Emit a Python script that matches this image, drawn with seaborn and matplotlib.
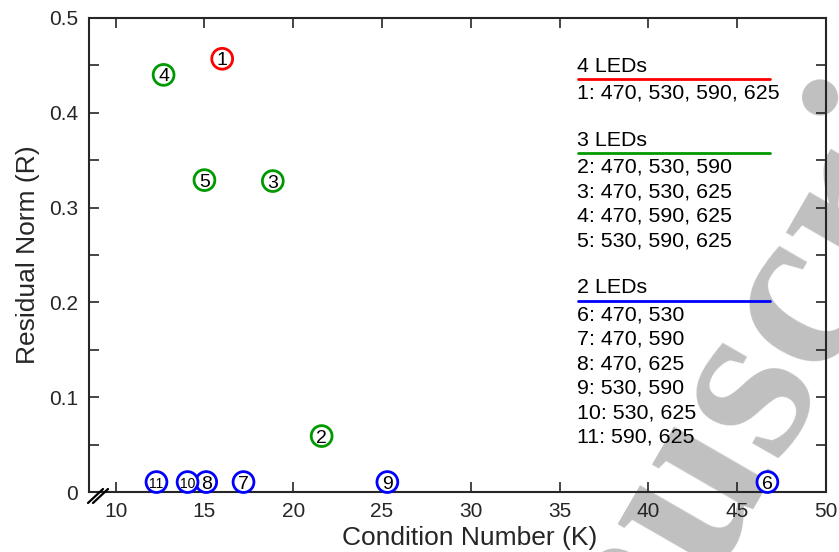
import numpy as np
import pandas as pd
import seaborn as sns
import matplotlib.pyplot as plt
from matplotlib.ticker import MultipleLocator, FuncFormatter
from matplotlib.lines import Line2D

# === DATA ===
point_ids = ["1", "2", "3", "4", "5", "6", "7", "8", "9", "10", "11"]
cond_number = [16.0, 21.6, 18.85, 12.7, 15.0, 46.7, 17.2, 15.1, 25.3, 14.05, 12.3]
residual_norm = [0.457, 0.059, 0.328, 0.440, 0.329, 0.0105, 0.0105, 0.0105, 0.0105, 0.0105, 0.0105]
led_group = ["4 LEDs", "3 LEDs", "3 LEDs", "3 LEDs", "3 LEDs",
             "2 LEDs", "2 LEDs", "2 LEDs", "2 LEDs", "2 LEDs", "2 LEDs"]

group_titles = ["4 LEDs", "3 LEDs", "2 LEDs"]
group_colors = ["#ff0000", "#009900", "#0000ff"]
group_entries = [
    ["1: 470, 530, 590, 625"],
    ["2: 470, 530, 590", "3: 470, 530, 625", "4: 470, 590, 625", "5: 530, 590, 625"],
    ["6: 470, 530", "7: 470, 590", "8: 470, 625", "9: 530, 590", "10: 530, 625", "11: 590, 625"],
]

df = pd.DataFrame({"K": cond_number, "R": residual_norm, "group": led_group, "id": point_ids})
palette = dict(zip(group_titles, group_colors))

# === STYLE ===
sns.set_theme(style="ticks")
plt.rcParams["font.family"] = ["Liberation Sans", "DejaVu Sans"]
ink = "#262626"

W, H = 839, 552
fig = plt.figure(figsize=(W / 100, H / 100), dpi=100)
ax_l, ax_r, ax_t, ax_b = 89, 826, 18, 492
ax = fig.add_axes([ax_l / W, 1 - ax_b / H, (ax_r - ax_l) / W, (ax_b - ax_t) / H])
ax.patch.set_alpha(0)


def axfrac(px, py):
    return (px - ax_l) / (ax_r - ax_l), (ax_b - py) / (ax_b - ax_t)


# watermark (behind everything)
fig.text(-32.4 / W, -1318.7 / H, "Accepted Manuscript", family=["Liberation Serif", "DejaVu Serif"],
         fontsize=173, fontweight="bold", color="#c0c0c0", rotation=60, rotation_mode="anchor",
         ha="left", va="baseline", zorder=-5)

# === SCATTER ===
sns.scatterplot(data=df, x="K", y="R", hue="group", palette=palette, s=15 ** 2,
                linewidth=2, legend=False, ax=ax, zorder=4, clip_on=False)
for coll in ax.collections:
    coll.set_edgecolors(coll.get_facecolors())
    coll.set_facecolor("white")

for k, r, pid in zip(df["K"], df["R"], df["id"]):
    ax.text(k, r, pid, ha="center", va="center_baseline",
            fontsize=10 if len(pid) > 1 else 14, color="black", zorder=5)

# === AXES ===
ax.set_xlim(8.5, 50)
ax.set_ylim(0, 0.5)
ax.set_xticks(np.arange(10, 51, 5))
ax.yaxis.set_major_locator(MultipleLocator(0.1))
ax.yaxis.set_minor_locator(MultipleLocator(0.05))
ax.yaxis.set_major_formatter(FuncFormatter(lambda v, p: f"{v:g}"))
ax.tick_params(axis="both", which="both", direction="in", top=True, right=True,
               color=ink, width=1.2, labelsize=15, labelcolor=ink)
ax.tick_params(axis="both", which="major", length=7)
ax.tick_params(axis="y", which="minor", length=7)
ax.tick_params(axis="y", pad=8)
ax.tick_params(axis="x", pad=7)
for sp in ax.spines.values():
    sp.set_visible(True)
    sp.set_color(ink)
    sp.set_linewidth(1.5)

ax.set_xlabel("Condition Number (K)", fontsize=19, color=ink)
ax.xaxis.set_label_coords(axfrac(470, 0)[0], -0.071)
ax.set_ylabel("Residual Norm (R)", fontsize=19, color=ink, labelpad=6)

# axis break mark
for dx in (0, 5):
    x0, y0 = axfrac(88 + dx, 503)
    x1, y1 = axfrac(103 + dx, 489)
    ax.add_line(Line2D([x0, x1], [y0, y1], transform=ax.transAxes, color="black",
                       lw=1.6, clip_on=False, zorder=6))

# === TEXT LEGEND ===
text_x, line_x0, line_x1 = 577, 578, 770
y = 71.7
for title, color, entries in zip(group_titles, group_colors, group_entries):
    tx, ty = axfrac(text_x, y)
    ax.text(tx, ty, title, transform=ax.transAxes, fontsize=15.4, color="black",
            ha="left", va="baseline", zorder=5)
    lx0, ly = axfrac(line_x0, y + 7.5)
    lx1, _ = axfrac(line_x1, y + 7.5)
    ax.add_line(Line2D([lx0, lx1], [ly, ly], transform=ax.transAxes, color=color, lw=2, zorder=5))
    yy = y + 27
    for entry in entries:
        tx, ty = axfrac(text_x, yy)
        ax.text(tx, ty, entry, transform=ax.transAxes, fontsize=15.4, color="black",
                ha="left", va="baseline", zorder=5)
        yy += 24.5
    y = yy - 24.5 + 47

fig.savefig("out.png", dpi=100)
